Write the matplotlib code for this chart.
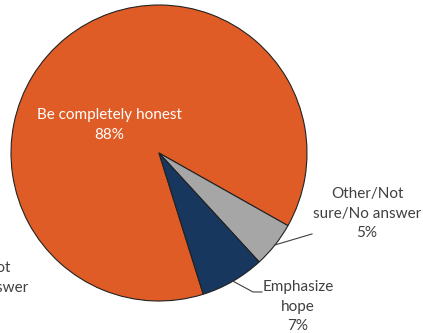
import numpy as np
import matplotlib
matplotlib.use("Agg")
import matplotlib.pyplot as plt

labels = ["Be completely honest", "Other/Not\nsure/No answer", "Emphasize\nhope"]
values = [88, 5, 7]
colors = ["#E05C26", "#A6A6A6", "#17375E"]

plt.rcParams['font.family'] = ['Lato', 'DejaVu Sans']

fig = plt.figure(figsize=(4.23, 3.33), dpi=100)
W, H = 423, 333
R = 148  # pie radius in pixels
cx, cy = 159, 153
ax = fig.add_axes([(cx - R) / W, (H - cy - R) / H, 2 * R / W, 2 * R / H])

wedges, _ = ax.pie(values, colors=colors, startangle=-72.6, counterclock=False,
                   wedgeprops=dict(edgecolor="#222222", linewidth=0.8))
ax.set_xlim(-1, 1)
ax.set_ylim(-1, 1)
ax.set_aspect("equal")
ax.axis("off")

txt = "#404040"
fs = 11
ls = 1.5

# inside label
ax.text(-0.338, 0.189, f"{labels[0]}\n{values[0]}%", ha="center", va="center",
        color="white", fontsize=fs, linespacing=ls)

# outside labels with leader lines
def mid(w):
    a = np.deg2rad((w.theta1 + w.theta2) / 2)
    return np.cos(a), np.sin(a)

x0, y0 = mid(wedges[1])
ax.plot([x0, 1.034], [y0, -0.547], color="#404040", lw=0.8, clip_on=False)
ax.text(1.405, -0.412, f"{labels[1]}\n{values[1]}%", ha="center", va="center",
        color=txt, fontsize=fs, linespacing=ls)

x0, y0 = mid(wedges[2])
ax.plot([x0, 0.635, 0.696], [y0, -0.939, -0.939], color="#404040", lw=0.8, clip_on=False)
ax.text(0.939, -1.04, f"{labels[2]}\n{values[2]}%", ha="center", va="center",
        color=txt, fontsize=fs, linespacing=ls)

# label of neighbouring chart, cut off at the left edge (as in the original)
ax.text(-1.25, -0.845, "Other/Not\nsure/No answer", ha="center", va="center",
        color=txt, fontsize=fs, linespacing=ls)

fig.savefig("out.png", dpi=100)
